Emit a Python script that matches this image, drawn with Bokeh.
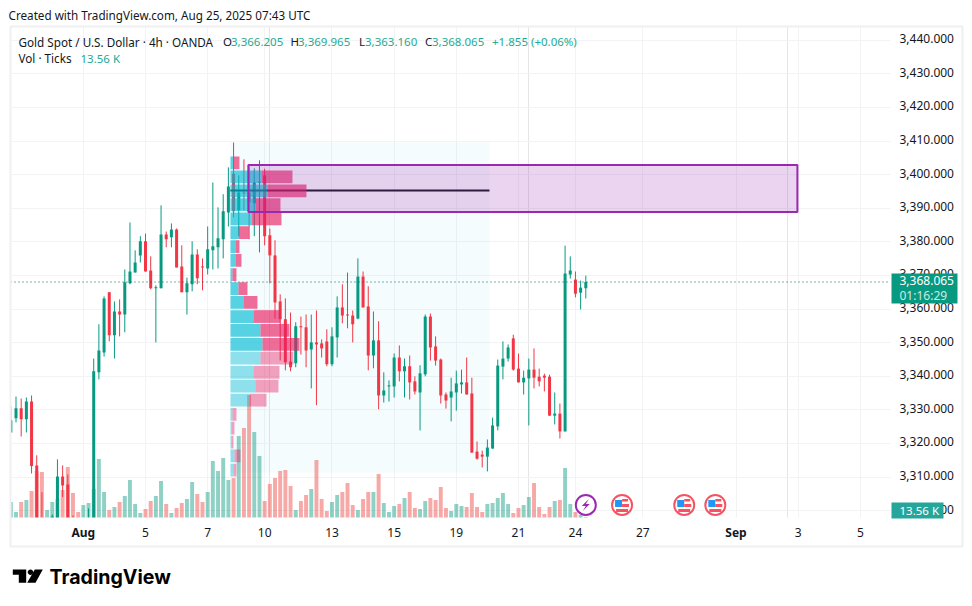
import numpy as np
from bokeh.plotting import figure
from bokeh.embed import file_html
from bokeh.resources import INLINE
from bokeh.models import Range1d, LinearAxis, FixedTicker, Label, BoxAnnotation, PolyAnnotation, Grid

# ---------- data ----------
opens = [3322.9,3327.1,3330.1,3326.8,3332.1,3313.1,3297.4,3290,3291,3296.5,3309.8,3307.4,3296,3292,3290,3290,3293,3340.8,3346.7,3364.6,3351.8,3358.9,3358.0,3367.3,3370.5,3375.6,3379.8,3371.1,3365.8,3365.8,3381.8,3381.0,3383.3,3372.3,3364.6,3367.0,3375.9,3372.3,3371.7,3377.1,3378.0,3380.4,3388.4,3399.9,3389.0,3394.3,3394.3,3391.1,3397.3,3399.4,3381.6,3375.6,3361.9,3356.6,3344.0,3343.5,3354.5,3354.2,3347.6,3349.7,3349.4,3350.0,3343.2,3351.2,3360.1,3358.0,3357.7,3356.8,3369.3,3360.4,3345.8,3350.3,3333.9,3336.6,3336.6,3345.2,3341.1,3342.6,3338.1,3334.8,3340.2,3357.4,3348.5,3344.6,3334.2,3333.3,3334.8,3337.2,3337.8,3334.5,3317.2,3316.3,3315.7,3318.1,3324.7,3342.5,3344.9,3350.9,3341.9,3337.8,3339.0,3341.6,3339.5,3339.8,3339.5,3327.9,3328.5,3323.2,3369.9,3368.4,3364.5,3366.205]
highs = [3330.7,3333.6,3333.0,3333.3,3333.9,3316.1,3305.1,3295,3298.5,3314.9,3313.1,3310.4,3298.2,3295,3294,3300.3,3344.9,3355.1,3363.4,3364.6,3361.9,3362.5,3371.4,3385.4,3377.1,3381.3,3382.1,3375.3,3366.7,3390.5,3382.7,3385.1,3383.6,3378.6,3369.0,3379.8,3377.4,3374.7,3384.2,3397.3,3389.9,3393.8,3401.8,3409.2,3399.4,3404.2,3402.1,3401.5,3403.9,3401.4,3383.6,3380.1,3364.0,3362.8,3358.6,3355.7,3357.4,3358.0,3358.0,3359.2,3350.6,3353.6,3354.2,3363.4,3367.0,3370.5,3359.2,3374.7,3370.8,3366.4,3358.9,3356.0,3340.8,3338.4,3346.4,3348.8,3344.9,3345.8,3339.6,3342.9,3358.0,3358.3,3351.5,3344.9,3334.8,3339.2,3341.3,3341.6,3345.2,3339.2,3320.2,3317.5,3320.8,3327.3,3344.6,3350.0,3349.1,3352.0,3346.4,3341.3,3344.9,3347.9,3341.9,3340.4,3340.1,3334.8,3331.5,3378.5,3375.3,3370.8,3368.1,3369.965]
lows = [3322.9,3325.9,3321.7,3322.9,3310.7,3296.0,3290,3288,3289,3295,3303.7,3294,3289,3288,3287,3288,3291,3338.7,3345.5,3350.0,3344.9,3351.5,3352.7,3367.0,3370.5,3373.5,3370.8,3365.5,3349.7,3365.8,3378.0,3378.0,3372.0,3364.6,3358.0,3364.9,3367.0,3365.2,3369.9,3371.4,3371.7,3374.7,3384.2,3386.9,3381.3,3389.0,3380.4,3381.3,3376.5,3378.6,3367.3,3356.8,3344.3,3341.4,3341.1,3342.3,3346.1,3342.3,3336.0,3331.0,3345.2,3342.6,3342.6,3345.2,3355.4,3353.9,3349.7,3356.6,3360.1,3341.4,3342.0,3329.8,3331.8,3332.1,3333.3,3338.1,3333.3,3332.7,3334.2,3323.5,3339.6,3344.3,3342.8,3331.5,3330.0,3326.2,3329.4,3334.5,3334.2,3316.9,3314.8,3312.5,3311.3,3318.1,3323.5,3338.7,3344.0,3341.3,3337.8,3334.2,3325.0,3336.0,3336.6,3335.1,3327.9,3325.3,3321.1,3323.2,3368.7,3363.1,3359.5,3363.160]
closes = [3326.5,3330.1,3326.8,3332.1,3312.9,3297.2,3292,3293,3297.9,3309.8,3307.1,3296.5,3292,3290,3292,3294,3341.1,3347.3,3362.8,3351.8,3358.9,3358.0,3367.6,3370.8,3373.5,3379.8,3370.8,3365.8,3366.1,3381.8,3380.4,3383.3,3372.0,3364.6,3367.3,3375.9,3368.8,3372.0,3377.4,3378.3,3380.7,3388.7,3396.1,3388.7,3394.3,3394.0,3391.4,3397.3,3397.5,3381.3,3375.6,3361.6,3356.6,3343.8,3342.3,3354.5,3354.2,3347.3,3349.7,3349.1,3347.9,3343.2,3351.5,3360.1,3357.7,3357.7,3355.1,3369.3,3360.1,3345.8,3350.3,3333.9,3335.4,3336.9,3345.2,3341.1,3342.6,3337.8,3335.1,3340.5,3357.4,3348.2,3344.3,3333.9,3332.4,3335.1,3337.5,3337.8,3334.2,3316.9,3315.1,3315.7,3318.4,3325.0,3342.8,3344.9,3348.2,3341.6,3337.8,3339.2,3341.6,3339.2,3338.1,3339.2,3327.9,3328.5,3323.2,3370.2,3371.1,3364.2,3366.0,3368.065]
bar_up = [1,1,0,1,0,0,0,1,1,1,0,0,0,0,1,1,1,1,1,0,1,0,1,1,1,1,0,0,1,1,0,1,0,0,1,1,0,0,1,1,1,1,1,0,1,0,0,1,1,0,0,0,0,0,0,1,0,0,1,0,0,0,1,1,0,0,0,1,0,0,1,0,1,1,1,0,1,0,0,1,1,0,0,0,0,1,1,1,0,0,0,0,1,1,1,1,1,0,0,1,1,0,0,0,0,1,0,1,1,0,1,1]
volumes_k = [216,81,216,243,364.5,634.5,621,108,216,256.5,378,688.5,337.5,81,175.5,202.5,391.5,796.5,351,108,148.5,216,297,513,189,67.5,121.5,229.5,297,499.5,189,67.5,135,202.5,256.5,486,324,216,351,769.5,634.5,810,513,540,
             1107,1215,1660.5,1161,837,229.5,459,540,634.5,648,432,108,229.5,310.5,391.5,783,256.5,94.5,216,310.5,351,472.5,175.5,108,256.5,351,351,594,202.5,81,162,189,270,351,135,121.5,229.5,
             270,243,418.5,135,94.5,189,162,148.5,337.5,148.5,81,189,202.5,270,337.5,189,67.5,135,175.5,283.5,472.5,148.5,54,148.5,229.5,243,675,189,81,40.5,13.56]

price_ticks = [3300,3310,3320,3330,3340,3350,3360,3370,3380,3390,3400,3410,3420,3430,3440]
price_labels = ["3,300.000","3,310.000","3,320.000","3,330.000","3,340.000","3,350.000","3,360.000","3,370.000","3,380.000","3,390.000","3,400.000","3,410.000","3,420.000","3,430.000","3,440.000"]
day_ticks = [26,38,49,62,74,86,98,109,122,152,164]
day_labels = ["5","7","10","13","15","19","21","24","27","3","5"]
month_ticks = [14,140]
month_labels = ["Aug","Sep"]

vp_top = [3405.0,3400.9,3396.7,3392.6,3388.4,3384.3,3380.1,3376.0,3371.8,3367.6,3363.5,3359.3,3355.2,3351.0,3346.9,3342.7,3338.6,3334.4,3330.2,3326.1,3321.9,3317.8,3313.6]
vp_up = [3.3,31,37,25,21,8.3,5,5,2,8,13,23,30,32,30,23,25,19,2,1,1,4,3]
vp_down = [5.7,31,39,25,30,10,4,6,4,9,14,27,29,37,33,26,23,17,4,3,2,6,3]
vp_in_value_area = [1]*14 + [0]*9
poc_price = 3394.9
range_left, range_right = 42.4, 92.4
range_high, range_low = 3409.2, 3311.0
zone_left, zone_right, zone_top, zone_bottom = 45.85, 151.85, 3402.5, 3388.5
last_price = 3368.065
event_bolt = [111]
event_flags = [118, 130, 136]

# prices above were read against a scale 0.387 too low; the last bar is exact
READ_CAL = 0.387
def cal(vals): return [v + READ_CAL for v in vals]
opens, highs, lows, closes = [cal(a[:-1]) + a[-1:] for a in (opens, highs, lows, closes)]
vp_top = cal(vp_top)
poc_price += READ_CAL
range_high += READ_CAL; range_low += READ_CAL
zone_top += READ_CAL; zone_bottom += READ_CAL

# ---------- layout ----------
W, H = 970, 604
BAR_PX = 5.18
PRICE_PX = 3.36
F_L, F_R, F_T, F_B = 10, 890, 26, 517
GREEN, RED = "#089981", "#f23645"
TEXT = "#131722"
FONT = "Noto Sans"

x0 = -10.33/BAR_PX
ytop = 3440 + 39.8/PRICE_PX
def X2i(X): return x0 + X/BAR_PX
def Y2p(Y): return ytop - Y/PRICE_PX

p = figure(width=W, height=H, output_backend="svg", toolbar_location=None,
           x_range=Range1d(x0, X2i(W)), y_range=Range1d(Y2p(H), ytop),
           x_axis_location=None, y_axis_location=None,
           min_border_left=0, min_border_top=0, min_border_right=0, min_border_bottom=0)
p.outline_line_color = None
p.background_fill_color = "#ffffff"
p.border_fill_color = "#ffffff"
VOL_PX = 13.5
LABEL_UP = 1.7/PRICE_PX
p.extra_y_ranges = {"vol": Range1d(-(H-F_B-0.5)*VOL_PX, (F_B+0.5)*VOL_PX),
                    "ticks": Range1d(Y2p(H)-LABEL_UP, ytop-LABEL_UP)}

def style(ax, weight="normal"):
    ax.axis_line_color = None
    ax.major_tick_line_color = None
    ax.minor_tick_line_color = None
    ax.major_label_text_color = TEXT
    ax.major_label_text_font = FONT
    ax.major_label_text_font_size = "12px"
    ax.major_label_text_font_style = weight

yaxis = LinearAxis(ticker=FixedTicker(ticks=price_ticks), fixed_location=X2i(F_R), y_range_name="ticks",
                   major_label_overrides=dict(zip(price_ticks, price_labels)), major_label_standoff=3)
dayaxis = LinearAxis(ticker=FixedTicker(ticks=day_ticks), fixed_location=Y2p(F_B),
                     major_label_overrides=dict(zip(day_ticks, day_labels)), major_label_standoff=4)
monaxis = LinearAxis(ticker=FixedTicker(ticks=month_ticks), fixed_location=Y2p(F_B),
                     major_label_overrides=dict(zip(month_ticks, month_labels)), major_label_standoff=0)
style(yaxis); style(dayaxis); style(monaxis, "bold")
p.add_layout(yaxis, "right")
p.add_layout(dayaxis, "below")
p.add_layout(monaxis, "below")

GRID = "#f2f3f5"
p.add_layout(Grid(dimension=1, ticker=FixedTicker(ticks=price_ticks), grid_line_color=GRID))
p.add_layout(Grid(dimension=0, ticker=FixedTicker(ticks=day_ticks + month_ticks), grid_line_color=GRID))

idx = list(range(len(opens)))
colors = [GREEN if u else RED for u in bar_up]
vol_colors = [GREEN if u else "#ef5350" for u in bar_up]
vol_alpha = [0.45 if u else 0.5 for u in bar_up]
body_top = [max(o, c) for o, c in zip(opens, closes)]
body_bot = [min(o, c) for o, c in zip(opens, closes)]

# range background
p.quad(left=[range_left], right=[range_right], top=[range_high], bottom=[range_low],
       fill_color="#00bcd4", fill_alpha=0.04, line_color=None)
# volume
p.vbar(x=idx, width=0.76, top=volumes_k, bottom=0, y_range_name="vol",
       fill_color=vol_colors, fill_alpha=vol_alpha, line_color=None)
# candles
p.segment(x0=idx, x1=idx, y0=highs, y1=lows, line_color=colors, line_width=1)
p.vbar(x=idx, width=0.58, top=body_top, bottom=body_bot, fill_color=colors, line_color=None)
# last price line
p.line(x=[X2i(F_L), X2i(F_R)], y=[last_price, last_price], line_color="#055f50", line_width=1.2, line_dash=[1, 3])
# POC line
p.line(x=[range_left, range_right], y=[poc_price, poc_price], line_color="#131722", line_width=2)
# volume profile
left_up = [range_left]*len(vp_up)
right_up = [range_left + v/BAR_PX for v in vp_up]
right_dn = [r + v/BAR_PX for r, v in zip(right_up, vp_down)]
vp_bot = [t - 3.8 for t in vp_top]
alpha = [0.65 if a else 0.42 for a in vp_in_value_area]
p.quad(left=left_up, right=right_up, top=vp_top, bottom=vp_bot, fill_color="#00bcd4", fill_alpha=alpha, line_color=None)
p.quad(left=right_up, right=right_dn, top=vp_top, bottom=vp_bot, fill_color="#e91e63", fill_alpha=alpha, line_color=None)
# purple zone
p.quad(left=[zone_left], right=[zone_right], top=[zone_top], bottom=[zone_bottom],
       fill_color="#9c27b0", fill_alpha=0.2, line_color="#9c27b0", line_width=2)

# event icons
ICON_Y = 3301.7
def ex(i, dx): return i + dx/BAR_PX
def ey(dy): return ICON_Y - dy/PRICE_PX
for i in event_bolt:
    p.scatter([i], [ICON_Y], marker="circle", size=20, fill_color="#ffffff", line_color="#9c27b0", line_width=2)
    bx = [3, -4, 0, -3, 4, 0]; by = [-6, 1, 1, 6, -1, -1]
    p.patch([ex(i, d) for d in bx], [ey(d) for d in by], fill_color="#9c27b0", line_color=None)
for i in event_flags:
    p.scatter([i], [ICON_Y], marker="circle", size=20, fill_color="#ffffff", line_color="#f7525f", line_width=2)
    for (a, b, c, d, col) in [(-7, 0, -5, 2, "#2196f3"), (0, 6, -6, -3.5, "#f7525f"), (0, 7, -1, 2, "#f7525f"), (-6, 6, 4, 7, "#f7525f")]:
        p.quad(left=[ex(i, a)], right=[ex(i, b)], top=[ey(c)], bottom=[ey(d)], fill_color=col, line_color=None)

# white masks around the pane (stand in for the pane clip)
for (a, b, c, d) in [(0, F_L, 0, H), (F_R, W, 0, H), (0, W, 0, F_T), (0, W, F_B, H)]:
    p.quad(left=[X2i(a)], right=[X2i(b)], top=[Y2p(c)], bottom=[Y2p(d)], fill_color="#ffffff", line_color=None)

# ---------- chrome in page pixels ----------
def sx(X): return X
def sy(Y): return H - Y
def text(X, Y, s, color=TEXT, size=12, style="normal", font=FONT, align="left"):
    p.add_layout(Label(x=sx(X), y=sy(Y), x_units="screen", y_units="screen", text=s, text_color=color,
                       text_font=font, text_font_size=f"{size}px", text_font_style=style,
                       text_baseline="middle", text_align=align))
def box(a, b, c, d, fill=None, line=None, lw=1):
    p.add_layout(BoxAnnotation(left=sx(a), right=sx(b), top=sy(c), bottom=sy(d),
                               left_units="screen", right_units="screen", top_units="screen", bottom_units="screen",
                               fill_color=fill, fill_alpha=1 if fill else 0, line_color=line, line_width=lw, line_alpha=1 if line else 0))
def poly(pts):
    p.add_layout(PolyAnnotation(xs=[sx(a) for a, b in pts], ys=[sy(b) for a, b in pts], xs_units="screen", ys_units="screen",
                                fill_color="#000000", fill_alpha=1, line_color=None))

box(10, 962, 26, 546, None, "#f0f0f0", 2)
box(891, 957, 273, 303, GREEN)
box(891, 943, 502, 518, "#26a69a")
text(899, 280, "3,368.065", "#ffffff")
text(899, 294.5, "01:16:29", "#cfe9e4")
text(899, 510, "13.56 K", "#ffffff", size=11.5)

text(8, 14, "Created with TradingView.com, Aug 25, 2025 07:43 UTC", size=11.7)
text(18, 41, "Gold Spot / U.S. Dollar · 4h · OANDA", size=11.7)
VAL = "#22ab94"
for X, s, c in [(222.5, "O", TEXT), (230.5, "3,366.205", VAL), (290, "H", TEXT), (297.5, "3,369.965", VAL),
                (358.5, "L", TEXT), (364.5, "3,363.160", VAL), (424.5, "C", TEXT), (431.5, "3,368.065", VAL),
                (491.5, "+1.855 (+0.06%)", VAL)]:
    text(X, 41, s, c, size=11.5)
text(18, 57.5, "Vol · Ticks", size=11.7)
text(80, 57.5, "13.56 K", VAL, size=11.5)

# TradingView logo
poly([(12.3, 569), (25.7, 569), (25.7, 582.3), (18.3, 582.3), (18.3, 574.3), (12.3, 574.3)])
poly([(34.3, 569), (42.3, 569), (35, 582.3), (26.7, 582.3)])
th = np.linspace(0, 2*np.pi, 16, endpoint=False)
poly([(30 + 2.7*np.cos(t), 571.7 + 2.7*np.sin(t)) for t in th])
text(49, 576, "TradingView", "#000000", 19.6, "bold", "Inter")

open("out.html", "w").write(file_html(p, INLINE))
